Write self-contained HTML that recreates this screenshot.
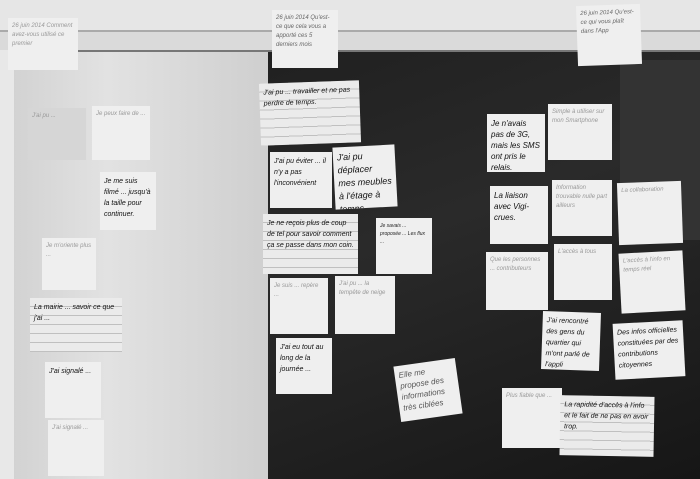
<!DOCTYPE html>
<html><head><meta charset="utf-8"><style>
body{margin:0;width:700px;height:479px;overflow:hidden;position:relative;background:#1c1c1c;font-family:"Liberation Sans",sans-serif}
.a{position:absolute}
.n{position:absolute;background:#efefef;color:#222;font-size:6px;line-height:9px;padding:4px;box-sizing:border-box;overflow:hidden;font-style:italic}
.f{color:#999}
.l{background:repeating-linear-gradient(#ebebeb 0 8px,#c0c0c0 8px 9px);}
.b{font-size:7px;line-height:11px;color:#111}
</style></head><body>
<div class="a" style="left:0;top:0;width:268px;height:479px;background:linear-gradient(90deg,#d0d0d0,#e2e2e2 40%,#cfcfcf)"></div>
<div class="a" style="left:268px;top:48px;width:432px;height:431px;background:linear-gradient(160deg,#202020,#2a2a2a 40%,#161616)"></div>
<div class="a" style="left:620px;top:60px;width:80px;height:180px;background:#333"></div>
<div class="a" style="left:0;top:0;width:700px;height:30px;background:#e6e6e6"></div>
<div class="a" style="left:0;top:30px;width:700px;height:18px;background:#dadada;border-top:2px solid #aaa;border-bottom:2px solid #777"></div>
<div class="a" style="left:0;top:50px;width:14px;height:429px;background:#e8e8e8"></div>

<div class="n f" style="left:8px;top:18px;width:70px;height:52px">26 juin 2014 Comment avez-vous utilisé ce premier</div>
<div class="n" style="left:272px;top:10px;width:66px;height:58px;color:#666">26 juin 2014 Qu'est-ce que cela vous a apporté ces 5 derniers mois</div>
<div class="n" style="left:577px;top:5px;width:64px;height:60px;color:#666;transform:rotate(-2deg)">26 juin 2014 Qu'est-ce qui vous plaît dans l'App</div>
<div class="n f" style="left:28px;top:108px;width:58px;height:52px;background:#d6d6d6">J'ai pu ...</div>
<div class="n f" style="left:92px;top:106px;width:58px;height:54px">Je peux faire de ...</div>
<div class="n b" style="left:100px;top:172px;width:56px;height:58px">Je me suis filmé ... jusqu'à la taille pour continuer.</div>
<div class="n f" style="left:42px;top:238px;width:54px;height:52px">Je m'oriente plus ...</div>
<div class="n l b" style="left:30px;top:298px;width:92px;height:54px">La mairie ... savoir ce que j'ai ...</div>
<div class="n b" style="left:45px;top:362px;width:56px;height:56px">J'ai signalé ...</div>
<div class="n f" style="left:48px;top:420px;width:56px;height:56px">J'ai signalé ...</div>

<div class="n l b" style="left:260px;top:82px;width:100px;height:62px;transform:rotate(-2deg)">J'ai pu ... travailler et ne pas perdre de temps.</div>
<div class="n b" style="left:270px;top:152px;width:62px;height:56px">J'ai pu éviter ... il n'y a pas l'inconvénient</div>
<div class="n b" style="left:334px;top:146px;width:62px;height:62px;transform:rotate(-3deg);font-size:9px;line-height:13px">J'ai pu déplacer mes meubles à l'étage à temps</div>
<div class="n l b" style="left:263px;top:214px;width:95px;height:60px">Je ne reçois plus de coup de tel pour savoir comment ça se passe dans mon coin.</div>
<div class="n" style="left:376px;top:218px;width:56px;height:56px;font-size:5px;line-height:8px">Je savais ... proposée ... Les flux ...</div>
<div class="n f" style="left:270px;top:278px;width:58px;height:56px">Je suis ... repère ...</div>
<div class="n f" style="left:335px;top:276px;width:60px;height:58px">J'ai pu ... la tempête de neige</div>
<div class="n b" style="left:276px;top:338px;width:56px;height:56px">J'ai eu tout au long de la journée ...</div>
<div class="n" style="left:397px;top:362px;width:62px;height:56px;transform:rotate(-8deg);color:#555;font-size:8px;line-height:11px">Elle me propose des informations très ciblées</div>

<div class="n b" style="left:487px;top:114px;width:58px;height:58px;font-size:8px">Je n'avais pas de 3G, mais les SMS ont pris le relais.</div>
<div class="n f" style="left:548px;top:104px;width:64px;height:56px">Simple à utiliser sur mon Smartphone</div>
<div class="n b" style="left:490px;top:186px;width:58px;height:58px;font-size:8px">La liaison avec Vigi-crues.</div>
<div class="n f" style="left:552px;top:180px;width:60px;height:56px">Information trouvable nulle part ailleurs</div>
<div class="n f" style="left:618px;top:182px;width:64px;height:62px;transform:rotate(-2deg)">La collaboration</div>
<div class="n f" style="left:486px;top:252px;width:62px;height:58px">Que les personnes ... contributeurs</div>
<div class="n f" style="left:554px;top:244px;width:58px;height:56px">L'accès à tous</div>
<div class="n f" style="left:620px;top:252px;width:64px;height:60px;transform:rotate(-3deg)">L'accès à l'info en temps réel</div>
<div class="n b" style="left:542px;top:312px;width:58px;height:58px;transform:rotate(2deg)">J'ai rencontré des gens du quartier qui m'ont parlé de l'appli</div>
<div class="n b" style="left:614px;top:322px;width:70px;height:56px;transform:rotate(-3deg)">Des infos officielles constituées par des contributions citoyennes</div>
<div class="n f" style="left:502px;top:388px;width:60px;height:60px">Plus fiable que ...</div>
<div class="n l b" style="left:560px;top:396px;width:94px;height:60px;transform:rotate(1deg)">La rapidité d'accès à l'info et le fait de ne pas en avoir trop.</div>
</body></html>
